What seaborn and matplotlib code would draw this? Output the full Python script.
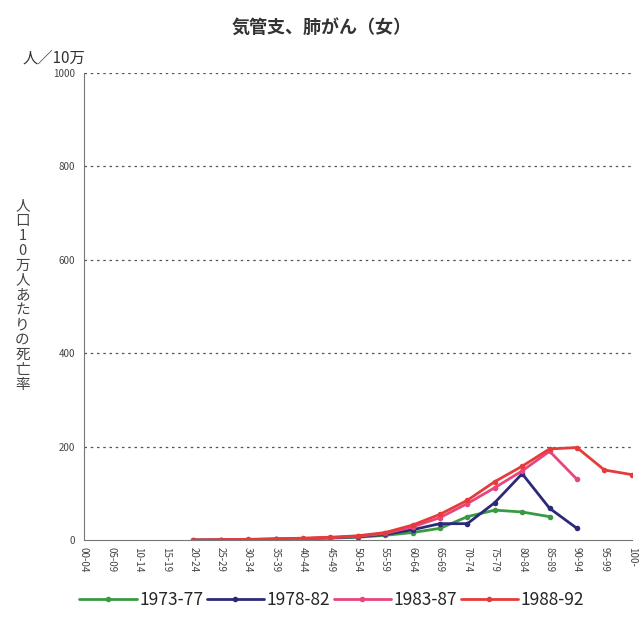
import numpy as np
import pandas as pd
import matplotlib
matplotlib.use("Agg")
import matplotlib.pyplot as plt
import seaborn as sns

categories = ['00-04','05-09','10-14','15-19','20-24','25-29','30-34','35-39','40-44',
              '45-49','50-54','55-59','60-64','65-69','70-74','75-79','80-84','85-89',
              '90-94','95-99','100-']
nan = np.nan
s1973 = [nan, nan, nan, nan, nan, 0.3, 0.8, 1.5, 2.5, 4, 6, 10, 16, 25, 50, 64, 60, 50, nan, nan, nan]
s1978 = [nan, nan, nan, nan, 0.2, 0.5, 1, 2, 3, 5, 7, 12, 22, 35, 35, 80, 142, 68, 25, nan, nan]
s1983 = [nan, nan, nan, nan, nan, 0.5, 1, 2, 3, 5, 8, 14, 28, 48, 78, 112, 148, 190, 130, nan, nan]
s1988 = [nan, nan, nan, nan, 0.3, 0.7, 1.5, 2.5, 4, 6, 9, 16, 32, 55, 85, 125, 158, 195, 198, 150, 140]
series_names = ['1973-77', '1978-82', '1983-87', '1988-92']
series_vals = [s1973, s1978, s1983, s1988]
colors = ['#3a9a44', '#2c2a78', '#e8457c', '#e63b3b']
yticks = [0, 200, 400, 600, 800, 1000]

rows = []
for name, vals in zip(series_names, series_vals):
    for i, v in enumerate(vals):
        if not np.isnan(v):
            rows.append({'age': i, 'value': v, 'period': name})
df = pd.DataFrame(rows)

sns.set_style("white")
plt.rcParams['font.family'] = ['Noto Sans CJK JP', 'DejaVu Sans']

fig = plt.figure(figsize=(6.44, 6.19), dpi=100)
ax = fig.add_axes([0.130, 0.1276, 0.851, 0.7545])

sns.lineplot(data=df, x='age', y='value', hue='period', palette=colors,
             marker='o', markersize=4, markeredgewidth=0, linewidth=2, ax=ax,
             hue_order=series_names)

ax.set_xlim(0, len(categories) - 1)
ax.set_ylim(0, 1000)
ax.set_xticks(range(len(categories)))
ax.set_xticklabels(categories, rotation=-90, fontsize=7, color='#444444')
ax.set_yticks(yticks)
ax.set_yticklabels([str(t) for t in yticks], fontsize=7, color='#444444')
ax.tick_params(axis='x', direction='inout', length=6, width=0.8, color='#666666', pad=2)
ax.tick_params(axis='y', direction='out', length=4, width=0.8, color='#666666', pad=2)
for y in yticks[1:]:
    ax.axhline(y, color='#555555', linestyle=(0, (2, 3)), linewidth=0.9, zorder=0)
for sp in ['top', 'right']:
    ax.spines[sp].set_visible(False)
ax.spines['left'].set_color('#777777')
ax.spines['bottom'].set_color('#777777')
ax.set_xlabel('')
ax.set_ylabel('')

handles, labels = ax.get_legend_handles_labels()
ax.get_legend().remove()
fig.legend(handles, labels, ncol=4, loc='center', bbox_to_anchor=(0.515, 0.031),
           frameon=False, fontsize=12.5, handlelength=3.3, columnspacing=0.2,
           handletextpad=0.15, borderpad=0)

fig.text(0.5, 0.955, '気管支、肺がん（女）', ha='center', va='center', fontsize=13,
         fontweight='bold', color='#333333')
fig.text(0.035, 0.905, '人／10万', ha='left', va='center', fontsize=11, color='#333333')
ylab = '人口10万人あたりの死亡率'
fig.text(0.035, 0.523, '\n'.join(ylab), ha='center', va='center', fontsize=10.5,
         color='#444444', linespacing=1.08)

fig.savefig('out.png', dpi=100)
